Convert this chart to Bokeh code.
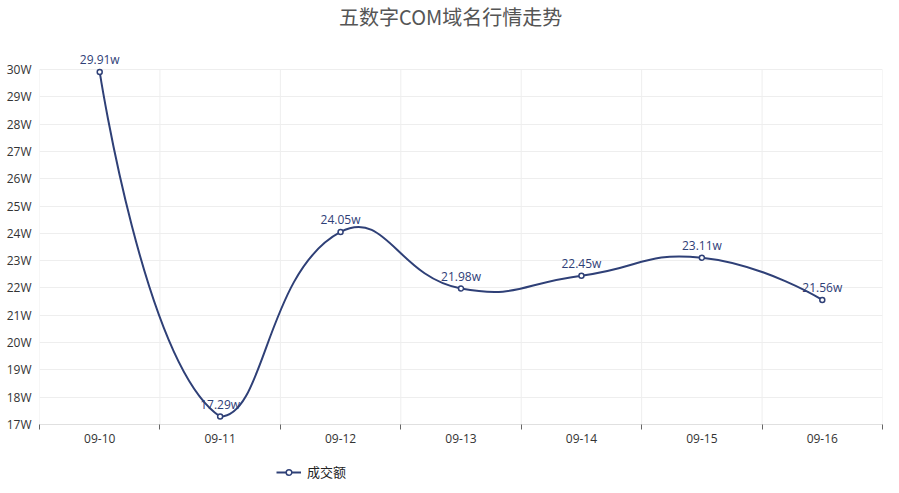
from bokeh.plotting import figure
from bokeh.models import (Range1d, FixedTicker, Legend, LegendItem, ColumnDataSource, Label, LabelSet)
from bokeh.layouts import column
from bokeh.core.properties import value
from bokeh.embed import file_html
from bokeh.resources import INLINE
import math

# ---- data ----
categories = ["09-10", "09-11", "09-12", "09-13", "09-14", "09-15", "09-16"]
values = [29.91, 17.29, 24.05, 21.98, 22.45, 23.11, 21.56]
y_ticks = list(range(17, 31))
y_tick_labels = [f"{t}W" for t in y_ticks]
series_name = "成交额"
title_text = "五数字COM域名行情走势"

COLOR = "#2f4077"
NUM_FONT = "Open Sans"
CJK_FONT = "Noto Sans CJK SC"

n = len(categories)
YMIN, YMAX = y_ticks[0], y_ticks[-1]
W = 899
PAD = 19                # extra room above the top grid line for the labels
TH = 69 - PAD           # title strip height
LH = 38                 # legend strip height
H = 493 - TH - LH       # main plot height
GRID_H = 355            # pixel height of the 17W..30W grid
BL, BR, BB, BT = 39, 17, 31, 0
FW = W - BL - BR
sy = GRID_H / (YMAX - YMIN)
YTOP = YMAX + PAD / sy

# ---- title strip ----
t = figure(width=W, height=TH, output_backend="svg", toolbar_location=None, title=None,
           x_range=Range1d(0, W), y_range=Range1d(0, TH),
           min_border=0, min_border_left=0, min_border_right=0, min_border_top=0, min_border_bottom=0)
t.outline_line_color = None
t.axis.visible = False
t.grid.visible = False
t.add_layout(Label(x=W / 2 - 11, y=TH - 16, text=title_text, text_align="center",
                   text_baseline="middle", text_font=CJK_FONT, text_font_size="20px",
                   text_color="#555555"))

# ---- main plot ----
p = figure(width=W, height=H, output_backend="svg", toolbar_location=None, title=None,
           x_range=Range1d(0, n), y_range=Range1d(YMIN, YTOP),
           min_border_left=BL, min_border_right=BR, min_border_top=BT, min_border_bottom=BB)
p.outline_line_color = None
p.background_fill_color = "white"
p.border_fill_color = "white"

xs = [i + 0.5 for i in range(n)]
bounds = list(range(n + 1))
p.xaxis.ticker = FixedTicker(ticks=xs, minor_ticks=bounds)
p.xaxis.major_label_overrides = {x: c for x, c in zip(xs, categories)}
p.xaxis.major_tick_line_color = None
p.xaxis.major_tick_out = 5
p.xaxis.major_tick_in = 0
p.xaxis.minor_tick_out = 5
p.xaxis.minor_tick_in = 0
p.xaxis.minor_tick_line_color = "#666666"
p.xaxis.axis_line_color = "#e0e0e0"
p.xaxis.major_label_text_font = NUM_FONT
p.xaxis.major_label_text_font_size = "12px"
p.xaxis.major_label_text_color = "#333333"
p.xaxis.major_label_standoff = 4

p.yaxis.ticker = FixedTicker(ticks=y_ticks)
p.yaxis.major_label_overrides = {tk: l for tk, l in zip(y_ticks, y_tick_labels)}
p.yaxis.axis_line_color = None
p.yaxis.major_tick_line_color = None
p.yaxis.minor_tick_line_color = None
p.yaxis.major_tick_out = 0
p.yaxis.major_tick_in = 0
p.yaxis.major_label_text_font = NUM_FONT
p.yaxis.major_label_text_font_size = "12px"
p.yaxis.major_label_text_color = "#333333"
p.yaxis.major_label_standoff = 8

p.xgrid.visible = False
p.ygrid.ticker = FixedTicker(ticks=y_ticks)
p.ygrid.grid_line_color = "#eeeeee"
# vertical category-boundary grid lines, limited to the 17W..30W band
p.segment(x0=bounds, y0=[YMIN] * len(bounds), x1=bounds, y1=[YMAX] * len(bounds),
          line_color="#eeeeee", line_width=1)

# ---- smooth curve (ECharts-4 style bezier smoothing, in pixel space) ----
sx = FW / n
pts = [(x * sx, y * sy) for x, y in zip(xs, values)]
smooth = 0.5
mnx = min(q[0] for q in pts); mxx = max(q[0] for q in pts)
mny = min(q[1] for q in pts); mxy = max(q[1] for q in pts)

def clamp(c):
    return (min(max(c[0], mnx), mxx), min(max(c[1], mny), mxy))

segs = dict(x0=[], y0=[], x1=[], y1=[], cx0=[], cy0=[], cx1=[], cy1=[])
cp0 = pts[0]
for i in range(1, len(pts)):
    pcur = pts[i]; pprev = pts[i - 1]
    ratio = 0.5
    v = (0.0, 0.0)
    if i + 1 < len(pts):
        pnext = pts[i + 1]
        v = (pnext[0] - pprev[0], pnext[1] - pprev[1])
        d0 = math.dist(pcur, pprev)
        d1 = math.dist(pcur, pnext)
        ratio = d1 / (d0 + d1)
        cp1 = (pcur[0] - v[0] * smooth * (1 - ratio), pcur[1] - v[1] * smooth * (1 - ratio))
    else:
        cp1 = pcur
    cp0 = clamp(cp0); cp1 = clamp(cp1)
    segs["x0"].append(pprev[0] / sx); segs["y0"].append(pprev[1] / sy)
    segs["x1"].append(pcur[0] / sx); segs["y1"].append(pcur[1] / sy)
    segs["cx0"].append(cp0[0] / sx); segs["cy0"].append(cp0[1] / sy)
    segs["cx1"].append(cp1[0] / sx); segs["cy1"].append(cp1[1] / sy)
    cp0 = (pcur[0] + v[0] * smooth * ratio, pcur[1] + v[1] * smooth * ratio)

p.bezier(x0="x0", y0="y0", x1="x1", y1="y1", cx0="cx0", cy0="cy0", cx1="cx1", cy1="cy1",
         source=ColumnDataSource(segs), line_color=COLOR, line_width=2)

src = ColumnDataSource(dict(x=xs, y=values, lab=[f"{v}w" for v in values]))
p.scatter("x", "y", source=src, marker="circle", size=5, fill_color="white",
          line_color=COLOR, line_width=1.5)
labels = LabelSet(x="x", y="y", text="lab", source=src, text_align="center",
                  text_baseline="bottom", y_offset=4, text_font_size="12px",
                  text_color=COLOR, text_font=value(NUM_FONT))
p.add_layout(labels)

# ---- legend strip ----
q = figure(width=W, height=LH, output_backend="svg", toolbar_location=None, title=None,
           x_range=Range1d(0, 1), y_range=Range1d(0, 1),
           min_border=0, min_border_left=0, min_border_right=0, min_border_top=0, min_border_bottom=0)
q.outline_line_color = None
q.axis.visible = False
q.grid.visible = False
lg_line = q.line(x=[-5, -4], y=[-5, -5], line_color=COLOR, line_width=2)
lg_mark = q.scatter(x=[-5], y=[-5], marker="circle", size=5, fill_color="white",
                    line_color=COLOR, line_width=1.5)
legend = Legend(items=[LegendItem(label=series_name, renderers=[lg_line, lg_mark])],
                location=(237, 12), orientation="horizontal",
                glyph_width=25, glyph_height=14, label_standoff=6,
                label_text_font=CJK_FONT, label_text_font_size="13px",
                label_text_color="#222222", border_line_color=None,
                background_fill_alpha=0, padding=3, margin=0)
q.add_layout(legend, "center")

open("out.html", "w").write(file_html(column(t, p, q, spacing=0), INLINE))
